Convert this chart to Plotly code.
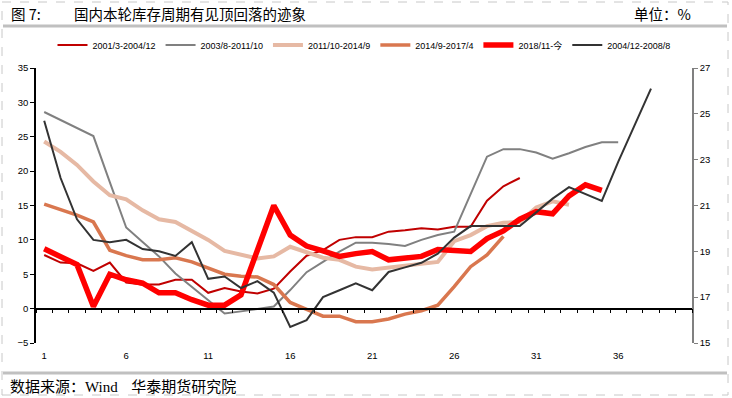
import plotly.graph_objects as go

# ---------------- data ----------------
x_ticks = [1, 6, 11, 16, 21, 26, 31, 36]

s_2001 = [7.8, 6.7, 6.6, 5.5, 6.7, 3.8, 3.5, 3.5, 4.2, 4.2, 2.3, 3.0, 2.5, 2.2, 2.9,
          5.4, 7.7, 8.5, 10.0, 10.4, 10.4, 11.2, 11.4, 11.7, 11.5, 11.9, 11.9, 15.7, 17.8, 19.0]
s_2003 = [28.6, 27.4, 26.2, 25.1, 18.4, 11.8, 9.7, 7.6, 5.1, 3.2, 1.3, -0.7, -0.4, -0.1, 0.3,
          2.7, 5.3, 6.8, 8.3, 9.6, 9.6, 9.4, 9.1, 10.0, 10.7, 11.2, 16.6, 22.1, 23.2, 23.2,
          22.7, 21.8, 22.6, 23.5, 24.2, 24.2]
s_2011 = [24.3, 22.8, 20.9, 18.5, 16.5, 15.9, 14.3, 13.0, 12.6, 11.3, 10.0, 8.4, 7.9, 7.3, 7.6,
          9.0, 8.2, 7.4, 7.1, 6.1, 5.7, 6.0, 6.3, 6.6, 6.8, 9.8, 10.7, 12.0, 12.5, 12.6,
          14.7, 15.6, 15.1]
s_2014 = [15.2, 14.4, 13.6, 12.6, 8.5, 7.7, 7.1, 7.1, 7.4, 6.8, 5.9, 5.0, 4.7, 4.6, 3.5,
          0.9, -0.1, -1.1, -1.1, -1.9, -1.9, -1.5, -0.8, -0.3, 0.5, 3.2, 6.1, 7.8, 10.5]
s_2018 = [8.7, 7.6, 6.4, 0.3, 5.0, 4.2, 3.7, 2.3, 2.3, 1.3, 0.5, 0.5, 2.0, 8.5, 15.0,
          10.7, 9.1, 8.4, 7.6, 8.0, 8.3, 7.1, 7.4, 7.6, 8.6, 8.5, 8.3, 10.2, 11.3, 13.0,
          14.1, 13.8, 16.4, 18.0, 17.2]
# right axis (15-27)
s_2004 = [24.7, 22.2, 20.4, 19.5, 19.4, 19.5, 19.1, 19.0, 18.8, 19.4, 17.8, 17.9, 17.4, 17.7, 17.2,
          15.7, 16.0, 17.0, 17.3, 17.6, 17.3, 18.1, 18.3, 18.5, 18.9, 19.6, 20.1, 20.1, 20.1, 20.1,
          20.7, 21.3, 21.8, 21.5, 21.2, 22.9, 24.5, 26.1]

series = [
    ("2001/3-2004/12", s_2001, "#C00000", 2, "y"),
    ("2003/8-2011/10", s_2003, "#808080", 2, "y"),
    ("2011/10-2014/9", s_2011, "#E6B9A4", 4, "y"),
    ("2014/9-2017/4", s_2014, "#D9774F", 3.5, "y"),
    ("2018/11-今", s_2018, "#FF0000", 5.5, "y"),
    ("2004/12-2008/8", s_2004, "#333333", 2, "y2"),
]

# ---------------- layout geometry ----------------
W, H = 732, 398
ML, MR, MT, MB = 36, 40, 68, 55
PW, PH = W - ML - MR, H - MT - MB


def px(xp):
    return (xp - ML) / PW


def py(yp):
    return (H - MB - yp) / PH


fig = go.Figure()
for name, vals, color, width, yax in series:
    fig.add_trace(go.Scatter(
        x=list(range(1, len(vals) + 1)), y=vals, name=name, mode="lines",
        line=dict(color=color, width=width), yaxis=yax, hoverinfo="skip"))

# invisible helper trace so the zero-line axis (x2) is drawn
fig.add_trace(go.Scatter(x=[1], y=[0], xaxis="x2", yaxis="y", mode="markers",
                         marker=dict(opacity=0), showlegend=False, hoverinfo="skip"))

tick_font = dict(family="Liberation Sans, Arial, sans-serif", size=9.5, color="#000000")

fig.update_layout(
    width=W, height=H,
    margin=dict(l=ML, r=MR, t=MT, b=MB, autoexpand=False),
    paper_bgcolor="white", plot_bgcolor="white",
    showlegend=True,
    legend=dict(orientation="h", x=0.5, xanchor="center", y=py(45), yanchor="middle",
                font=dict(family="Liberation Sans, Noto Sans CJK SC, sans-serif", size=9, color="#000"),
                itemwidth=30, bgcolor="rgba(0,0,0,0)"),
    xaxis=dict(range=[0.5, 40.5], tickvals=x_ticks, ticktext=[str(v) for v in x_ticks],
               showline=False, showgrid=False, zeroline=False, ticks="",
               ticklabelstandoff=5, tickfont=tick_font),
    xaxis2=dict(range=[0.5, 40.5], overlaying="x", anchor="free", position=5 / 40,
                showline=True, linecolor="#000000", linewidth=1.5,
                tickvals=[v + 0.5 for v in range(0, 41)], ticks="outside", ticklen=4,
                tickcolor="#000000", tickwidth=1, showticklabels=False,
                showgrid=False, zeroline=False),
    yaxis=dict(range=[-5, 35], tickvals=list(range(-5, 36, 5)), showline=True,
               linecolor="#000000", linewidth=1.5, ticks="outside", ticklen=4,
               tickcolor="#000000", showgrid=False, zeroline=False, tickfont=tick_font),
    yaxis2=dict(range=[15, 27], tickvals=list(range(15, 28, 2)), overlaying="y", side="right",
                showline=True, linecolor="#808080", linewidth=1.5, ticks="outside", ticklen=4,
                tickcolor="#808080", showgrid=False, zeroline=False, tickfont=tick_font),
)

# frame and separators
fig.add_shape(type="rect", xref="paper", yref="paper", x0=px(2), x1=px(728), y0=py(395), y1=py(2),
              line=dict(color="#C8C8C8", width=1, dash="dash"), layer="below")
fig.add_shape(type="line", xref="paper", yref="paper", x0=px(3), x1=px(727), y0=py(26), y1=py(26),
              line=dict(color="#C0C0C0", width=3))
fig.add_shape(type="line", xref="paper", yref="paper", x0=px(3), x1=px(727), y0=py(373), y1=py(373),
              line=dict(color="#C0C0C0", width=3))

cjk = "Noto Sans CJK SC, sans-serif"
fig.add_annotation(xref="paper", yref="paper", x=px(9), y=py(13), xanchor="left", yanchor="middle",
                   text="图 7:", showarrow=False, font=dict(family=cjk, size=14.5, color="#000"))
fig.add_annotation(xref="paper", yref="paper", x=px(72), y=py(13), xanchor="left", yanchor="middle",
                   text="国内本轮库存周期有见顶回落的迹象", showarrow=False,
                   font=dict(family=cjk, size=14.5, color="#000"))
fig.add_annotation(xref="paper", yref="paper", x=px(693), y=py(13), xanchor="right", yanchor="middle",
                   text="单位：%", showarrow=False, font=dict(family=cjk, size=14.5, color="#000"))
fig.add_annotation(xref="paper", yref="paper", x=px(8), y=py(385), xanchor="left", yanchor="middle",
                   text="数据来源：<span style=\"font-family:'Liberation Serif', serif\">Wind</span>"
                        "&nbsp;&nbsp;&nbsp;&nbsp;华泰期货研究院",
                   showarrow=False, font=dict(family=cjk, size=15, color="#000"))

fig.write_html("out.html", config={"displayModeBar": False},
               post_script="document.body.style.margin='0';document.body.style.overflow='hidden';")
